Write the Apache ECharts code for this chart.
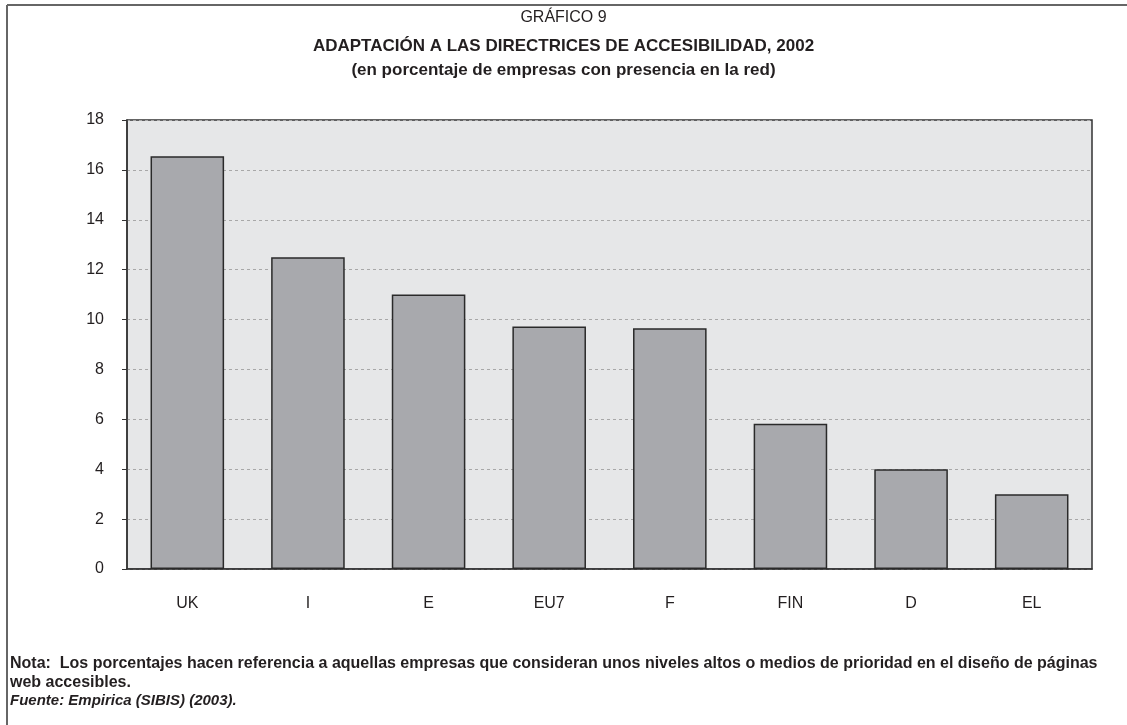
<!DOCTYPE html>
<html><head><meta charset="utf-8">
<script src="https://cdn.jsdelivr.net/npm/echarts@6/dist/echarts.min.js"></script>
<style>html,body{margin:0;padding:0;background:#fff}#c{width:1127px;height:725px}</style>
</head><body><div id="c"></div>
<script>
const categories = ['UK', 'I', 'E', 'EU7', 'F', 'FIN', 'D', 'EL'];
const values = [16.55, 12.5, 11.0, 9.72, 9.65, 5.82, 4.0, 3.0];
const yTicks = [0, 2, 4, 6, 8, 10, 12, 14, 16, 18];
const titleLines = ['GRÁFICO 9', 'ADAPTACIÓN A LAS DIRECTRICES DE ACCESIBILIDAD, 2002', '(en porcentaje de empresas con presencia en la red)'];
const noteLines = ['Nota:  Los porcentajes hacen referencia a aquellas empresas que consideran unos niveles altos o medios de prioridad en el diseño de páginas', 'web accesibles.'];
const sourceLine = 'Fuente: Empirica (SIBIS) (2003).';

const font = 'Liberation Sans, Arial, sans-serif';
const chart = echarts.init(document.getElementById('c'));
chart.setOption({
  animation: false,
  backgroundColor: '#fff',
  title: [
    {text: titleLines[0], left: 'center', top: 5, textStyle: {fontFamily: font, fontSize: 16, fontWeight: 'normal', color: '#231f20'}},
    {text: titleLines[1], left: 'center', top: 33, textStyle: {fontFamily: font, fontSize: 17, fontWeight: 'bold', color: '#231f20'}},
    {text: titleLines[2], left: 'center', top: 57, textStyle: {fontFamily: font, fontSize: 17, fontWeight: 'bold', color: '#231f20'}}
  ],
  grid: {left: 127, right: 35, top: 120, bottom: 156, show: true, backgroundColor: '#e6e7e8', borderColor: '#333', borderWidth: 1.5},
  xAxis: {
    type: 'category', data: categories,
    axisLine: {lineStyle: {color: '#333', width: 1.5}},
    axisTick: {show: false},
    axisLabel: {fontFamily: font, fontSize: 16, color: '#231f20', margin: 27}
  },
  yAxis: {
    type: 'value', min: yTicks[0], max: yTicks[yTicks.length - 1], interval: 2,
    axisLine: {show: true, lineStyle: {color: '#333', width: 1.5}},
    axisTick: {show: true, length: 5, lineStyle: {color: '#333'}},
    axisLabel: {fontFamily: font, fontSize: 16, color: '#231f20', margin: 23},
    splitLine: {show: true, lineStyle: {color: '#a8a8a8', type: [3, 3], width: 1}}
  },
  series: [{
    type: 'bar', data: values, barWidth: '61%',
    itemStyle: {color: '#a8a9ad', borderColor: '#2a2a2a', borderWidth: 1.5}
  }],
  graphic: [
    {type: 'line', shape: {x1: 7, y1: 5, x2: 1127, y2: 5}, style: {stroke: '#666', lineWidth: 2}},
    {type: 'line', shape: {x1: 7, y1: 5, x2: 7, y2: 725}, style: {stroke: '#666', lineWidth: 2}},
    {type: 'text', left: 10, top: 656, style: {text: noteLines[0], font: 'bold 16px ' + font, fill: '#231f20'}},
    {type: 'text', left: 10, top: 675, style: {text: noteLines[1], font: 'bold 16px ' + font, fill: '#231f20'}},
    {type: 'text', left: 10, top: 693, style: {text: sourceLine, font: 'italic bold 15px ' + font, fill: '#231f20'}}
  ]
});
</script></body></html>
